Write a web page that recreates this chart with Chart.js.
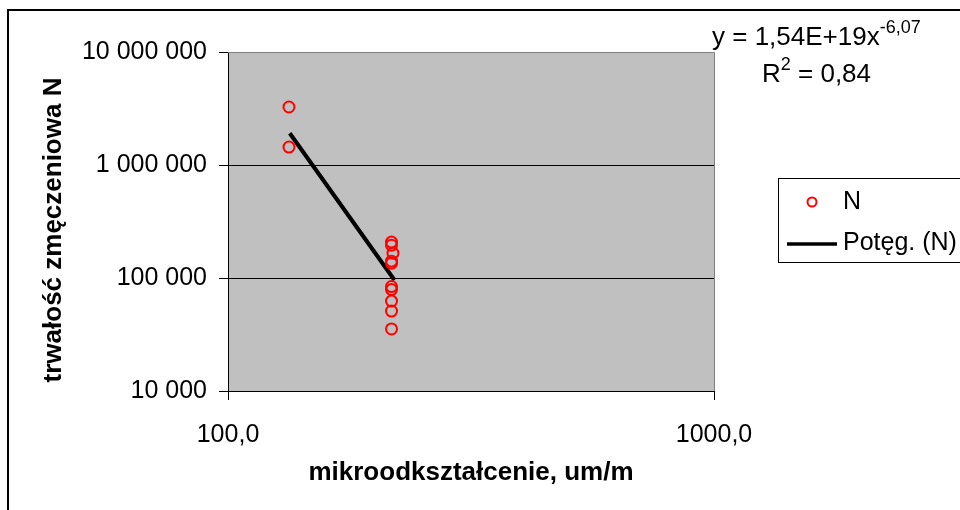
<!DOCTYPE html>
<html>
<head>
<meta charset="utf-8">
<script src="https://cdn.jsdelivr.net/npm/chart.js@4"></script>
<style>
  html, body { margin: 0; padding: 0; background: #fff; }
  #wrap { width: 960px; height: 510px; }
</style>
</head>
<body>
<div id="wrap"><canvas id="fatigueChart" width="960" height="510"></canvas></div>
<script>
const strainX = [133.5, 133.5, 217, 217, 218.5, 217, 217, 217, 217, 217, 217, 217];
const cyclesN = [3260000, 1440000, 208000, 195000, 166000, 141000, 135000, 84000, 79000, 62500, 51000, 35400];
const trendX = [134, 220];
const trendN = [1910000, 96000];
const xTickValues = [100, 1000];
const yTickValues = [10000, 100000, 1000000, 10000000];
const yTitle = "trwałość zmęczeniowa N";
const eqMain = "y = 1,54E+19x";
const eqPow = "-6,07";
const r2Text = " = 0,84";

const FONT = "'Liberation Sans', Arial, sans-serif";

const fmtSpaces = v => String(Math.round(v)).replace(/\B(?=(\d{3})+(?!\d))/g, " ");

const decor = {
  id: "decor",
  beforeDraw(chart) {
    const { ctx, chartArea: a } = chart;
    ctx.save();
    ctx.strokeStyle = "#000";
    ctx.lineWidth = 2;
    ctx.beginPath();
    ctx.moveTo(8, 512);
    ctx.lineTo(8, 10);
    ctx.lineTo(962, 10);
    ctx.stroke();
    ctx.fillStyle = "#c0c0c0";
    ctx.fillRect(a.left, a.top, a.right - a.left, a.bottom - a.top);
    ctx.restore();
  },
  afterDraw(chart) {
    const { ctx, chartArea: a } = chart;
    ctx.save();
    // ramka obszaru kreślenia
    ctx.strokeStyle = "#808080";
    ctx.lineWidth = 1;
    ctx.beginPath();
    ctx.moveTo(a.left, a.top + 0.5);
    ctx.lineTo(a.right + 0.5, a.top + 0.5);
    ctx.lineTo(a.right + 0.5, a.bottom);
    ctx.stroke();

    // tytuł osi Y
    ctx.save();
    ctx.translate(61, 230);
    ctx.rotate(-Math.PI / 2);
    ctx.fillStyle = "#000";
    ctx.font = "bold 26px " + FONT;
    ctx.textAlign = "center";
    ctx.textBaseline = "alphabetic";
    ctx.fillText(yTitle, 0, 0);
    ctx.restore();

    // równanie trendu
    ctx.fillStyle = "#000";
    ctx.textBaseline = "alphabetic";
    ctx.textAlign = "left";
    ctx.font = "26px " + FONT;
    ctx.fillText(eqMain, 712, 45);
    const w1 = ctx.measureText(eqMain).width;
    ctx.font = "18px " + FONT;
    ctx.fillText(eqPow, 712 + w1, 33);
    ctx.font = "26px " + FONT;
    ctx.fillText("R", 762, 82);
    const wR = ctx.measureText("R").width;
    ctx.font = "18px " + FONT;
    ctx.fillText("2", 762 + wR, 70);
    const w2 = ctx.measureText("2").width;
    ctx.font = "26px " + FONT;
    ctx.fillText(r2Text, 762 + wR + w2, 82);

    // legenda
    const ds = chart.data.datasets;
    ctx.strokeStyle = "#000";
    ctx.lineWidth = 1;
    ctx.fillStyle = "#fff";
    ctx.fillRect(778.5, 178.5, 190, 84);
    ctx.strokeRect(778.5, 178.5, 190, 84);
    ctx.strokeStyle = ds[0].borderColor;
    ctx.lineWidth = 2;
    ctx.beginPath();
    ctx.arc(812, 202, 4.5, 0, Math.PI * 2);
    ctx.stroke();
    ctx.strokeStyle = ds[1].borderColor;
    ctx.lineWidth = 3.5;
    ctx.beginPath();
    ctx.moveTo(787, 244);
    ctx.lineTo(837, 244);
    ctx.stroke();
    ctx.fillStyle = "#000";
    ctx.font = "25px " + FONT;
    ctx.textBaseline = "middle";
    ctx.fillText(ds[0].label, 843, 202);
    ctx.fillText(ds[1].label, 843, 243);
    ctx.restore();
  }
};

new Chart(document.getElementById("fatigueChart"), {
  type: "scatter",
  data: {
    datasets: [
      {
        label: "N",
        data: strainX.map((x, i) => ({ x, y: cyclesN[i] })),
        borderColor: "#ff0000",
        backgroundColor: "rgba(0,0,0,0)",
        borderWidth: 2,
        pointRadius: 5.5,
        pointHoverRadius: 5.5,
        order: 1
      },
      {
        label: "Potęg. (N)",
        type: "line",
        data: trendX.map((x, i) => ({ x, y: trendN[i] })),
        borderColor: "#000",
        borderWidth: 4,
        pointRadius: 0,
        showLine: true,
        fill: false,
        order: 2
      }
    ]
  },
  options: {
    responsive: false,
    animation: false,
    devicePixelRatio: 1,
    layout: { padding: { left: 8, right: 246, top: 52, bottom: 0 } },
    plugins: {
      legend: { display: false },
      tooltip: { enabled: false }
    },
    scales: {
      x: {
        type: "logarithmic",
        position: "bottom",
        min: 100,
        max: 1000,
        afterBuildTicks: s => { s.ticks = xTickValues.map(v => ({ value: v })); },
        afterFit: s => { s.height = 119; },
        ticks: {
          color: "#000",
          font: { family: FONT, size: 25 },
          padding: 20,
          maxRotation: 0,
          callback: v => v.toFixed(1).replace(".", ",")
        },
        grid: { drawOnChartArea: false, color: "#000", tickLength: 9 },
        border: { color: "#000" },
        title: {
          display: true,
          text: "mikroodkształcenie, um/m",
          color: "#000",
          font: { family: FONT, size: 26, weight: "bold" },
          padding: { top: 0, bottom: 22 }
        }
      },
      y: {
        type: "logarithmic",
        min: 10000,
        max: 10000000,
        afterBuildTicks: s => { s.ticks = yTickValues.map(v => ({ value: v })); },
        afterFit: s => { s.width = 220; },
        ticks: {
          color: "#000",
          font: { family: FONT, size: 25 },
          padding: 12,
          callback: v => fmtSpaces(v)
        },
        grid: { color: "#000", tickLength: 9 },
        border: { color: "#000" },
        title: { display: false }
      }
    }
  },
  plugins: [decor]
});
</script>
</body>
</html>
